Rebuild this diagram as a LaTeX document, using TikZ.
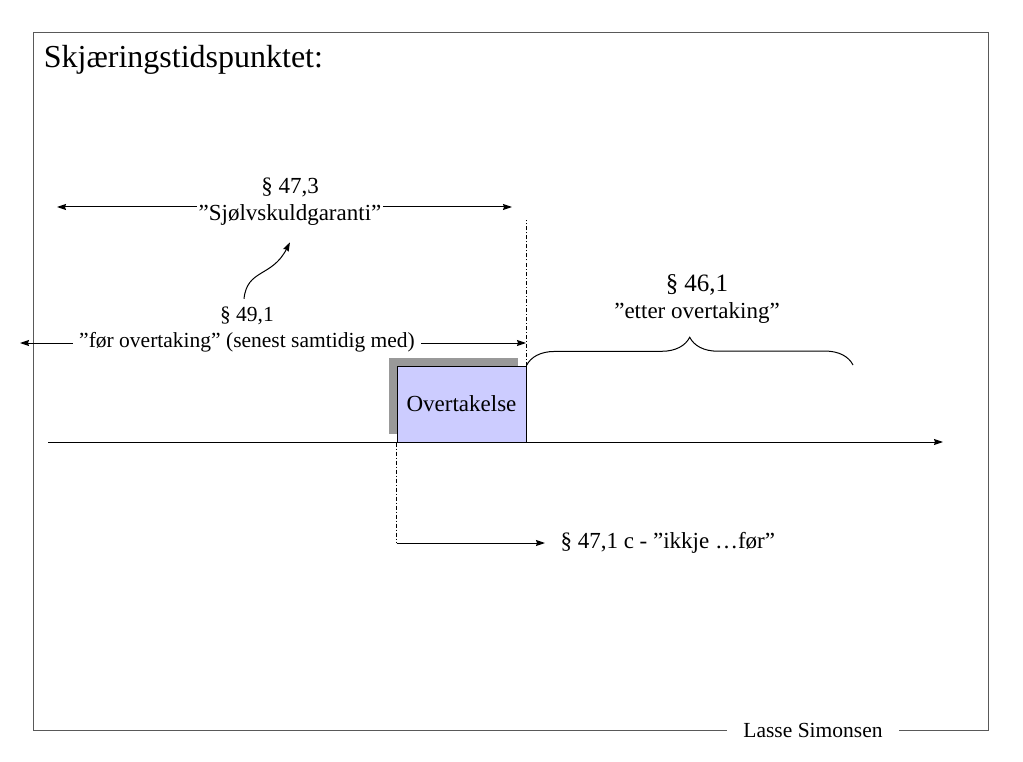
\documentclass[tikz,border=0pt]{standalone}
\usepackage{fontspec}
\setmainfont{Liberation Serif}
\usetikzlibrary{positioning,arrows.meta,shadows,decorations.pathreplacing}

\begin{document}
\begin{tikzpicture}[ x = 1pt, y = -1pt, > = {Stealth[length = 9pt, width = 6pt, inset = 1pt]}, line width = 1pt,
txt/.style={ inner sep = 1pt, align = center, font = \fontsize{23}{27}\selectfont },
small txt/.style={ inner sep = 1pt, align = center, font = \fontsize{21.5}{26}\selectfont },
event/.style={ rectangle, draw, fill = blue!20, minimum width = 129pt, minimum height = 76pt, inner sep = 0pt, font = \fontsize{23}{27}\selectfont,
	general shadow={shadow xshift=-8pt,shadow yshift=8pt,fill=black!40} },
frame/.style={ draw = black!65, line width = 0.8pt },
cutline/.style={ line width = 0.7pt, dash pattern = on 4pt off 2pt on 1pt off 2pt }
]
\useasboundingbox (0,0) rectangle (1023,762);
%frame, title and name
\node (author) [small txt, inner xsep = 16pt] at (813,730) {Lasse Simonsen};
\draw [frame] (author.east) -- (988,730) -- (988,32) -- (33,32) -- (33,730) -- (author.west);
\node (title) [anchor = base west, font = \fontsize{32}{38}\selectfont] at (40,68) {Skjæringstidspunktet:};

%time line and the event on it
\coordinate (t0) at (48,442);
\coordinate (t1) at (943,442);
\draw [->] (t0) -- (t1);
\node (ovt) [event] at (461.5,404) {Overtakelse};
\coordinate (cut) at (ovt.north east |- 0,220);
\draw [cutline] (ovt.north east) -- (cut);

%before the event
\node (s473) [txt] at (290,202) {§ 47,3\\”Sjølvskuldgaranti”};
\coordinate (s473l) at (57,207);
\coordinate (s473r) at (512,207);
\draw [->] (s473.west |- s473l) -- (s473l);
\draw [->] (s473.east |- s473r) -- (s473r);

\node (s491) [small txt, inner xsep = 6pt] at (247,330) {§ 49,1\\”før overtaking” (senest samtidig med)};
\coordinate (s491l) at (20,343);
\coordinate (s491r) at (526,343);
\draw [->] (s491l -| s491.west) -- (s491l);
\draw [->] (s491r -| s491.east) -- (s491r);
\draw [->] ([xshift = -3pt, yshift = 7pt] s491.north) .. controls +(3,-30) and +(-18,35) .. ([yshift = -15pt] s473.south);

%after the event
\node (s461) [txt] at (697,299) {{\fontsize{25}{28}\selectfont § 46,1}\\”etter overtaking”};
\coordinate (s461e) at (853,365);
\draw [decorate, decoration = {brace, amplitude = 28pt}] (ovt.north east) -- (s461e);

\coordinate (s471c) at (ovt.south west |- 0,543);
\coordinate (s471a) at (545,543);
\draw [cutline] (ovt.south west) -- (s471c);
\draw [->] (s471c) -- (s471a);
\node (s471) [txt, right = 14pt of s471a] {§ 47,1 c - ”ikkje …før”};
\end{tikzpicture}
\end{document}
